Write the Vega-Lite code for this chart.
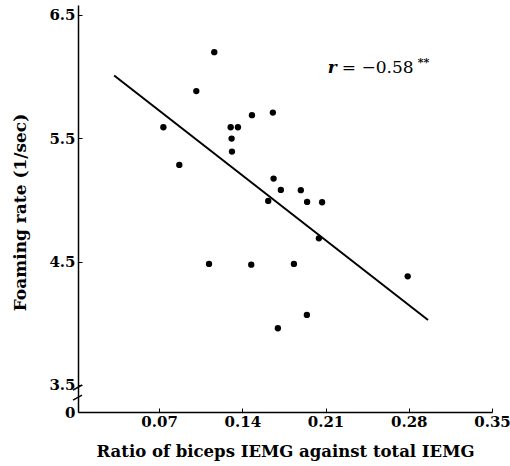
{
  "$schema": "https://vega.github.io/schema/vega-lite/v6.json",
  "width": 414,
  "height": 407,
  "autosize": "none",
  "padding": {"left": 78, "top": 5, "right": 18, "bottom": 54},
  "background": "white",
  "config": {"view": {"stroke": null}, "font": "DejaVu Serif"},
  "datasets": {
    "points": [
      {"ratio": 0.1164, "rate": 6.198},
      {"ratio": 0.1013, "rate": 5.882},
      {"ratio": 0.0736, "rate": 5.589},
      {"ratio": 0.0870, "rate": 5.284},
      {"ratio": 0.1302, "rate": 5.589},
      {"ratio": 0.1363, "rate": 5.589},
      {"ratio": 0.1310, "rate": 5.497},
      {"ratio": 0.1313, "rate": 5.392},
      {"ratio": 0.1481, "rate": 5.687},
      {"ratio": 0.1657, "rate": 5.708},
      {"ratio": 0.1663, "rate": 5.173},
      {"ratio": 0.1724, "rate": 5.081},
      {"ratio": 0.1892, "rate": 5.079},
      {"ratio": 0.1618, "rate": 4.992},
      {"ratio": 0.1945, "rate": 4.984},
      {"ratio": 0.2071, "rate": 4.981},
      {"ratio": 0.2044, "rate": 4.689},
      {"ratio": 0.1120, "rate": 4.481},
      {"ratio": 0.1475, "rate": 4.475},
      {"ratio": 0.1834, "rate": 4.481},
      {"ratio": 0.2791, "rate": 4.381},
      {"ratio": 0.1943, "rate": 4.068},
      {"ratio": 0.1699, "rate": 3.960}
    ],
    "fit": [
      {"ratio": 0.0322, "rate": 6.008},
      {"ratio": 0.2962, "rate": 4.027}
    ],
    "brk": [
      {"ratio": -0.0024, "rate": 3.458, "ratio2": 0.0052, "rate2": 3.50},
      {"ratio": -0.0024, "rate": 3.377, "ratio2": 0.0052, "rate2": 3.418}
    ],
    "r": [{"ratio": 0.2157, "rate": 6.03, "label": "r"}],
    "val": [{"ratio": 0.2237, "rate": 6.03, "label": "= −0.58"}],
    "stars": [{"ratio": 0.2875, "rate": 6.085, "label": "**"}]
  },
  "layer": [
    {
      "data": {"name": "points"},
      "mark": {"type": "circle", "size": 40, "color": "black", "opacity": 1},
      "encoding": {
        "x": {
          "field": "ratio", "type": "quantitative",
          "scale": {"domain": [0.0018, 0.35], "nice": false, "zero": false},
          "axis": {
            "values": [0.07, 0.14, 0.21, 0.28, 0.35],
            "format": ".2f",
            "grid": false,
            "domainColor": "black", "domainWidth": 1.5,
            "tickColor": "black", "tickSize": -4,
            "labelFont": "DejaVu Serif", "labelFontWeight": "bold", "labelFontSize": 15,
            "labelColor": "black", "labelPadding": 6, "labelFlush": false, "labelOverlap": false,
            "title": "Ratio of biceps IEMG against total IEMG",
            "titleFont": "DejaVu Serif", "titleFontWeight": "bold", "titleFontSize": 16.5,
            "titleColor": "black", "titleBaseline": "middle", "titleY": 39
          }
        },
        "y": {
          "field": "rate", "type": "quantitative",
          "scale": {"domain": [3.281, 6.58], "nice": false, "zero": false},
          "axis": {
            "values": [3.281, 3.5, 4.5, 5.5, 6.5],
            "labelExpr": "datum.value < 3.4 ? '0' : format(datum.value, '.1f')",
            "grid": false,
            "domainColor": "black", "domainWidth": 1.5,
            "tickColor": "black", "tickSize": -4,
            "labelFont": "DejaVu Serif", "labelFontWeight": "bold", "labelFontSize": 15,
            "labelColor": "black", "labelPadding": 7, "labelOverlap": false,
            "title": "Foaming rate (1/sec)",
            "titleFont": "DejaVu Serif", "titleFontWeight": "bold", "titleFontSize": 17,
            "titleColor": "black", "titleX": -58, "titleY": 207, "titleAlign": "center",
            "titleBaseline": "middle", "titleAngle": -90
          }
        }
      }
    },
    {
      "data": {"name": "fit"},
      "mark": {"type": "line", "color": "black", "strokeWidth": 2},
      "encoding": {
        "x": {"field": "ratio", "type": "quantitative"},
        "y": {"field": "rate", "type": "quantitative"}
      }
    },
    {
      "data": {"name": "brk"},
      "mark": {"type": "rule", "color": "black", "strokeWidth": 1.5},
      "encoding": {
        "x": {"field": "ratio", "type": "quantitative"},
        "x2": {"field": "ratio2"},
        "y": {"field": "rate", "type": "quantitative"},
        "y2": {"field": "rate2"}
      }
    },
    {
      "data": {"name": "r"},
      "mark": {"type": "text", "font": "DejaVu Serif", "fontStyle": "italic", "fontWeight": "bold", "fontSize": 17, "align": "center", "baseline": "alphabetic", "color": "black"},
      "encoding": {
        "x": {"field": "ratio", "type": "quantitative"},
        "y": {"field": "rate", "type": "quantitative"},
        "text": {"field": "label"}
      }
    },
    {
      "data": {"name": "val"},
      "mark": {"type": "text", "font": "DejaVu Serif", "fontSize": 17, "align": "left", "baseline": "alphabetic", "color": "black"},
      "encoding": {
        "x": {"field": "ratio", "type": "quantitative"},
        "y": {"field": "rate", "type": "quantitative"},
        "text": {"field": "label"}
      }
    },
    {
      "data": {"name": "stars"},
      "mark": {"type": "text", "font": "DejaVu Serif", "fontWeight": "bold", "fontSize": 11, "align": "left", "baseline": "alphabetic", "color": "black"},
      "encoding": {
        "x": {"field": "ratio", "type": "quantitative"},
        "y": {"field": "rate", "type": "quantitative"},
        "text": {"field": "label"}
      }
    }
  ]
}
